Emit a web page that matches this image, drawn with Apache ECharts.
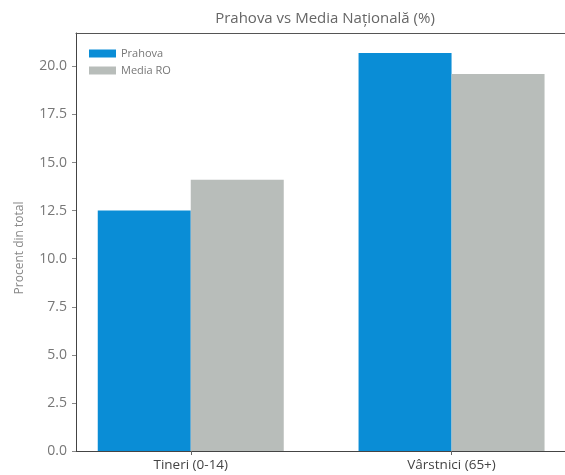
<!DOCTYPE html>
<html>
<head>
<meta charset="utf-8">
<script src="https://cdn.jsdelivr.net/npm/echarts@6/dist/echarts.min.js"></script>
<style>
html,body{margin:0;padding:0;background:#fff;}
#main{width:565px;height:475px;}
</style>
</head>
<body>
<div id="main"></div>
<script>
const categories = ['Tineri (0-14)', 'Vârstnici (65+)'];
const prahova = [12.5, 20.7];
const mediaRO = [14.1, 19.6];
const yTicks = [0, 2.5, 5, 7.5, 10, 12.5, 15, 17.5, 20];
const seriesNames = ['Prahova', 'Media RO'];
const titleText = 'Prahova vs Media Națională (%)';
const yName = 'Procent din total';

const FONT = '"Open Sans", Lato, sans-serif';
const chart = echarts.init(document.getElementById('main'), null, {renderer: 'canvas'});

const toPairs = arr => arr.map((v, i) => [i, v]);

chart.setOption({
  animation: false,
  backgroundColor: '#ffffff',
  grid: {
    left: 76, right: -10, top: 33, bottom: 24,
    show: false
  },
  graphic: [
    {type: 'text', x: 325, y: 19, style: {text: titleText, fill: '#666', font: '15px ' + FONT, textAlign: 'center', textVerticalAlign: 'middle'}},
    {type: 'text', x: 20, y: 248, rotation: Math.PI / 2, style: {text: yName, fill: '#888', font: '12px ' + FONT, textAlign: 'center', textVerticalAlign: 'middle'}}
  ],
  legend: {
    left: 84, top: 43, orient: 'vertical', itemWidth: 27, itemHeight: 8, itemGap: 6,
    icon: 'rect',
    textStyle: {color: '#777', fontSize: 11, fontFamily: FONT},
    data: seriesNames
  },
  xAxis: [{
    type: 'value', min: -0.44, max: 1.435,
    splitLine: {show: false},
    axisLine: {show: true, onZero: false, lineStyle: {color: '#444'}},
    axisTick: {show: true, length: 4, lineStyle: {color: '#666'}, customValues: [0, 1]},
    axisLabel: {
      customValues: [0, 1], margin: 7,
      formatter: v => categories[Math.round(v)] || '',
      color: '#444', fontSize: 13.5, fontFamily: FONT
    }
  }, {
    type: 'value', position: 'top', min: -0.44, max: 1.435,
    splitLine: {show: false},
    axisLine: {show: true, onZero: false, lineStyle: {color: '#555'}},
    axisTick: {show: false}, axisLabel: {show: false}
  }],
  yAxis: {
    type: 'value', min: 0, max: 21.735,
    splitLine: {show: false},
    axisLine: {show: true, onZero: false, lineStyle: {color: '#444'}},
    axisTick: {show: true, length: 4, lineStyle: {color: '#888'}, customValues: yTicks},
    axisLabel: {
      customValues: yTicks, margin: 9,
      formatter: v => v.toFixed(1),
      color: '#777', fontSize: 14, fontFamily: FONT
    }
  },
  series: [
    {name: seriesNames[0], type: 'bar', xAxisIndex: 0, data: toPairs(prahova), barWidth: 93, barGap: '0%', itemStyle: {color: '#0a8dd6'}},
    {name: seriesNames[1], type: 'bar', xAxisIndex: 0, data: toPairs(mediaRO), barWidth: 93, barGap: '0%', itemStyle: {color: '#b8bdba'}}
  ]
});
</script>
</body>
</html>
